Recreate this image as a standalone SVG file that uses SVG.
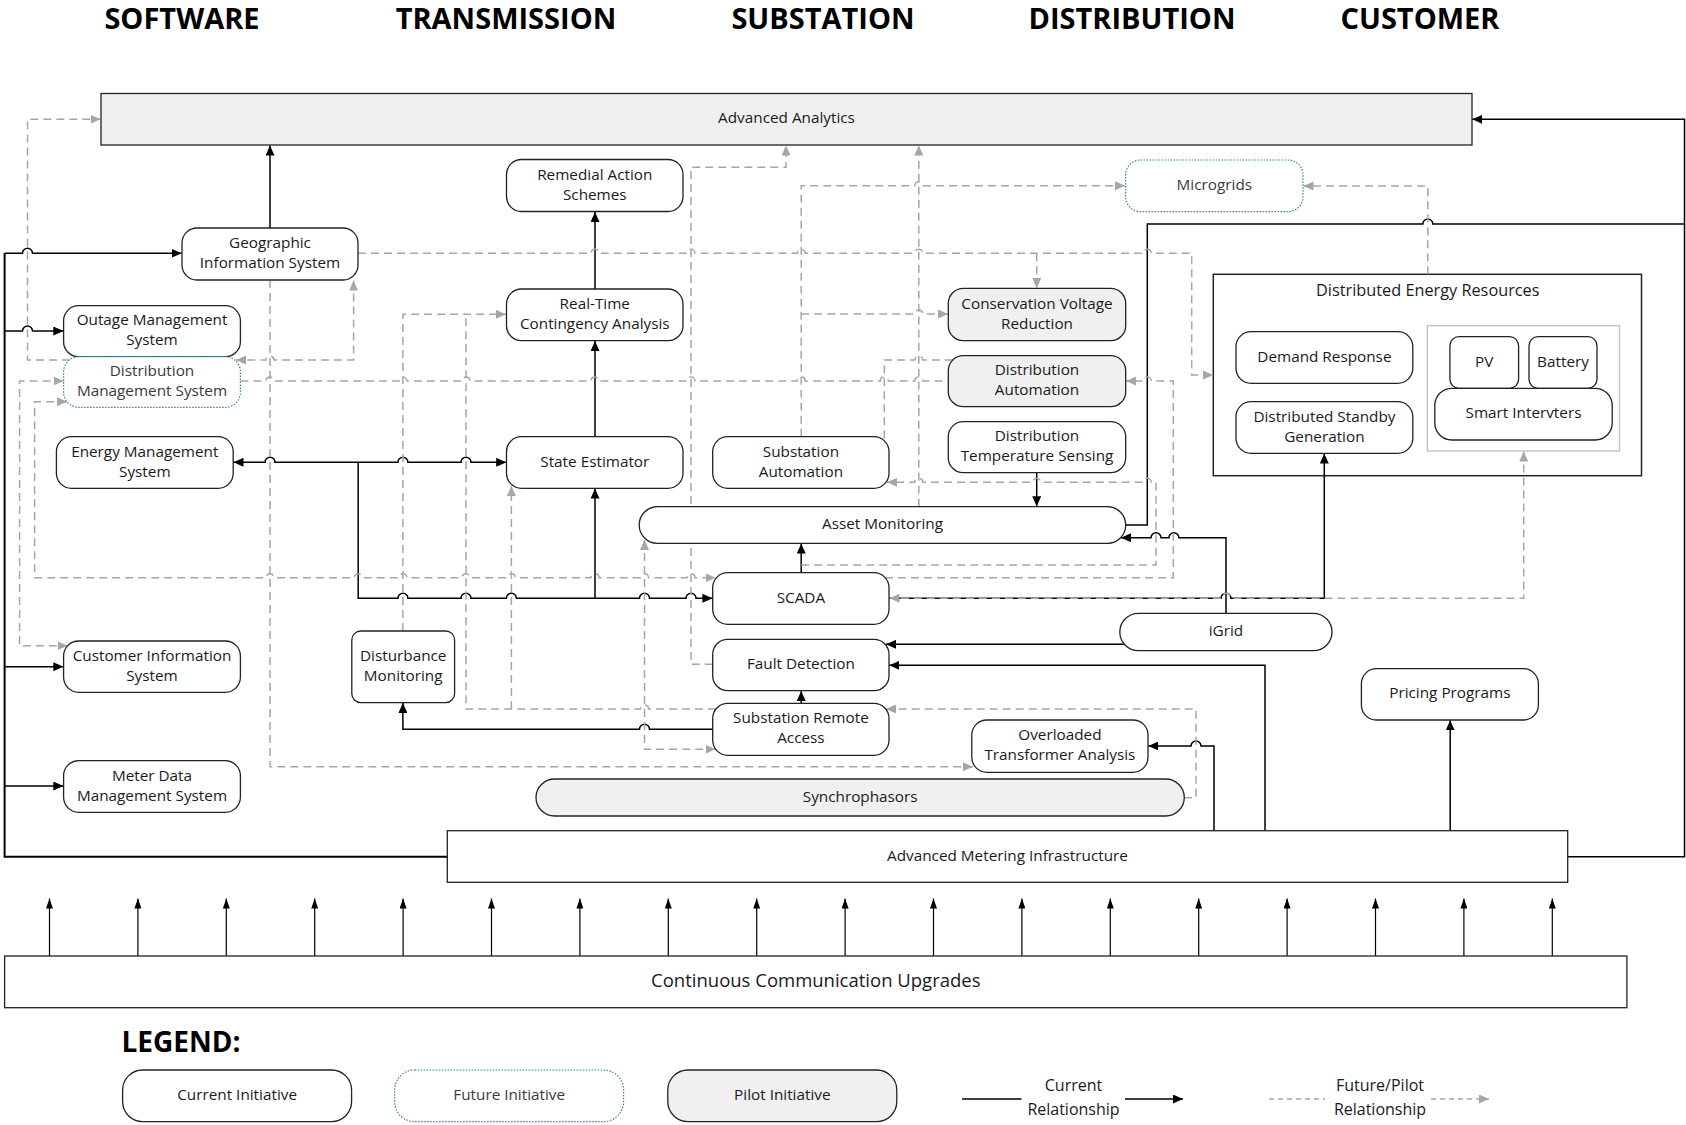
<svg xmlns="http://www.w3.org/2000/svg" width="1686" height="1125" viewBox="0 0 1686 1125">
<style>
text{font-family:"Open Sans","Noto Sans","Liberation Sans",sans-serif;font-size:15.3px;fill:#1a1a1a;text-anchor:middle;dominant-baseline:middle}
.h{font-weight:700;font-size:29px;fill:#000;dominant-baseline:auto}
.lg{font-weight:700;font-size:28px;fill:#000;dominant-baseline:auto;text-anchor:start}
.b{fill:#fff;stroke:#222;stroke-width:1.3}
.p{fill:#f0f0f0;stroke:#222;stroke-width:1.3}
.f{fill:#fff;stroke:#31849b;stroke-width:1.2;stroke-dasharray:1.5 1.5}
.ft{fill:#3a3a3a}
.s{fill:none;stroke:#000;stroke-width:1.5}
.bus{fill:none;stroke:#000;stroke-width:2}
.d{fill:none;stroke:#a6a6a6;stroke-width:1.5;stroke-dasharray:8 5}
.ae{marker-end:url(#ab)}
.ge{marker-end:url(#ag)}
.gs{marker-start:url(#ag)}
.c{fill:none;stroke:#000;stroke-width:1.2;marker-end:url(#ac)}
</style>
<defs>
<marker id="ab" viewBox="0 0 10 9" refX="10" refY="4.5" markerWidth="10" markerHeight="9" markerUnits="userSpaceOnUse" orient="auto-start-reverse"><path d="M0,0 L10,4.5 L0,9 z" fill="#000"/></marker>
<marker id="ag" viewBox="0 0 10 9" refX="10" refY="4.5" markerWidth="10" markerHeight="9" markerUnits="userSpaceOnUse" orient="auto-start-reverse"><path d="M0,0 L10,4.5 L0,9 z" fill="#a6a6a6"/></marker>
<marker id="ac" viewBox="0 0 10 7" refX="10" refY="3.5" markerWidth="10" markerHeight="7" markerUnits="userSpaceOnUse" orient="auto"><path d="M0,0 L10,3.5 L0,7 z" fill="#000"/></marker>
</defs>

<g id="headers">
<text class="h" x="182" y="29">SOFTWARE</text>
<text class="h" x="506" y="29">TRANSMISSION</text>
<text class="h" x="823" y="29">SUBSTATION</text>
<text class="h" x="1132" y="29">DISTRIBUTION</text>
<text class="h" x="1420" y="29">CUSTOMER</text>
</g>

<g id="der"><rect fill="#fff" stroke="#222" stroke-width="1.5" x="1213.3" y="274.3" width="428.2" height="201.4"/><text x="1427.8" y="291.5" style="font-size:16.3px">Distributed Energy Resources</text>
<rect fill="none" stroke="#bfbfbf" stroke-width="1.3" x="1427.4" y="325.7" width="192.1" height="125.3"/></g>

<g id="connectors">
<g id="solid">
<path class="bus" d="M447.3,856.7 H4.6 V253.3"/>
<path class="s ae" d="M4.6,253.3 H22.5 a5,5 0 0 1 10,0 H181.5"/>
<path class="s ae" d="M4.6,331 H22.5 a5,5 0 0 1 10,0 H63.3"/>
<path class="s ae" d="M4.6,666.7 H63.3"/>
<path class="s ae" d="M4.6,786 H63.3"/>
<path class="s ae" d="M270,228 V145.5"/>
<path class="s ae" d="M595,289 V212"/>
<path class="s ae" d="M595,436.7 V341"/>
<path class="s ae" d="M358.2,462.3 H275 a5,5 0 0 0 -10,0 H233.5"/>
<path class="s ae" d="M358.2,462.3 H397.9 a5,5 0 0 1 10,0 H461 a5,5 0 0 1 10,0 H506.2"/>
<path class="s ae" d="M358.2,462.3 V598.3 H397.9 a5,5 0 0 1 10,0 H461 a5,5 0 0 1 10,0 H506.4 a5,5 0 0 1 10,0 H639.5 a5,5 0 0 1 10,0 H686 a5,5 0 0 1 10,0 H712.4"/>
<path class="s ae" d="M595,598.3 V488.6"/>
<path class="s ae" d="M801.2,572.7 V543.6"/>
<path class="s ae" d="M801.2,703.3 V691"/>
<path class="s ae" d="M712.7,729.3 H649.5 a5,5 0 0 0 -10,0 H402.9 V703"/>
<path class="s ae" d="M1036.7,472.7 V506.3"/>
<path class="s ae" d="M1125.7,525 H1147.3 V224 H1422.8 a5,5 0 0 1 10,0 H1684.5 V119.3 H1472.3"/>
<path class="s ae" d="M1226,613.3 V537.7 H1178.9 a5,5 0 0 0 -10,0 H1161 a5,5 0 0 0 -10,0 H1121"/>
<path class="s ae" d="M1124.4,644.3 H886"/>
<path class="s ae" d="M1265,830.7 V665.3 H889.3"/>
<path class="s ae" d="M1214,830.7 V746 H1201 a5,5 0 0 0 -10,0 H1148.3"/>
<path class="s ae" d="M1450.2,830.7 V720.3"/>
<path class="s" d="M1567.7,856.7 H1684.5 V224"/>
<path class="s ae" d="M889,598.3 H1221 a5,5 0 0 1 10,0 H1324.3 V453.6"/>
<path class="c" d="M49.5,956 V898.5"/>
<path class="c" d="M137.9,956 V898.5"/>
<path class="c" d="M226.3,956 V898.5"/>
<path class="c" d="M314.7,956 V898.5"/>
<path class="c" d="M403.1,956 V898.5"/>
<path class="c" d="M491.5,956 V898.5"/>
<path class="c" d="M579.9,956 V898.5"/>
<path class="c" d="M668.3,956 V898.5"/>
<path class="c" d="M756.7,956 V898.5"/>
<path class="c" d="M845.1,956 V898.5"/>
<path class="c" d="M933.5,956 V898.5"/>
<path class="c" d="M1021.9,956 V898.5"/>
<path class="c" d="M1110.3,956 V898.5"/>
<path class="c" d="M1198.7,956 V898.5"/>
<path class="c" d="M1287.1,956 V898.5"/>
<path class="c" d="M1375.5,956 V898.5"/>
<path class="c" d="M1463.9,956 V898.5"/>
<path class="c" d="M1552.3,956 V898.5"/>
</g>
<g id="dashed">
<path class="d gs ge" d="M353.6,280.5 V360 H274 a4,4 0 0 0 -8,0 H236"/>
<path class="d ge" d="M70,360 H27.5 V119.3 H100.5"/>
<path class="d" d="M240.4,381 H266 a4,4 0 0 1 8,0 H398.9 a4,4 0 0 1 8,0 H462 a4,4 0 0 1 8,0 H591 a4,4 0 0 1 8,0 H687 a4,4 0 0 1 8,0 H797.2 a4,4 0 0 1 8,0 H880.3 a4,4 0 0 1 8,0 H914.8 a4,4 0 0 1 8,0 H948.3"/>
<path class="d gs ge" d="M63.6,381 H19.6 V645.7 H67.5"/>
<path class="d gs ge" d="M67,401.7 H34.6 V577.7 H266 a4,4 0 0 1 8,0 H354.2 a4,4 0 0 1 8,0 H398.9 a4,4 0 0 1 8,0 H462 a4,4 0 0 1 8,0 H507.4 a4,4 0 0 1 8,0 H591 a4,4 0 0 1 8,0 H640.5 a4,4 0 0 1 8,0 H687 a4,4 0 0 1 8,0 H715.5"/>
<path class="d ge" d="M885,577.7 H1173.3 V381 H1151.3 a4,4 0 0 0 -8,0 H1126"/>
<path class="d ge" d="M801.2,565 H1156 V482.3 H1151.3 a4,4 0 0 0 -8,0 H1040.7 a4,4 0 0 0 -8,0 H922.8 a4,4 0 0 0 -8,0 H887"/>
<path class="d ge" d="M801.2,436.7 V185.7 H914.8 a4,4 0 0 1 8,0 H1125"/>
<path class="d ge" d="M801.2,314 H914.8 a4,4 0 0 1 8,0 H948"/>
<path class="d ge" d="M712.7,664.3 H691 V167.3 H786 V145.5"/>
<path class="d ge" d="M918.8,506.7 V145.5"/>
<path class="d ge" d="M358,253.3 H591 a4,4 0 0 1 8,0 H687 a4,4 0 0 1 8,0 H797.2 a4,4 0 0 1 8,0 H914.8 a4,4 0 0 1 8,0 H1143.3 a4,4 0 0 1 8,0 H1191.7 V375 H1213"/>
<path class="d ge" d="M1036.7,253.3 V288"/>
<path class="d ge" d="M270,280 V766.7 H973"/>
<path class="d ge" d="M402.9,631 V314.3 H506"/>
<path class="d" d="M716,709 H648.5 a4,4 0 0 0 -8,0 H466 V314.3"/>
<path class="d ge" d="M511.4,709 V486"/>
<path class="d ge" d="M1184,797.7 H1196 V709 H886"/>
<path class="d gs ge" d="M644.5,540 V749.3 H715.5"/>
<path class="d" d="M952.8,360 H922.8 a4,4 0 0 0 -8,0 H884.3 V440.8"/>
<path class="d ge" d="M1427.8,274.3 V186 H1303.5"/>
<path class="d gs ge" d="M1523.7,451.5 V598.3 H1231 a5,5 0 0 0 -10,0 H889.5"/>
</g>
</g>

<g id="nodes">
<g id="advanced-analytics"><rect class="p" x="101" y="93.5" width="1371" height="51.5"/><text x="786.5" y="119.3">Advanced Analytics</text></g>
<g id="gis"><rect class="b" x="182" y="228" width="176" height="52" rx="15"/><text x="270" y="244">Geographic</text><text x="270" y="264">Information System</text></g>
<g id="oms"><rect class="b" x="63.6" y="305.7" width="176.8" height="51" rx="15"/><text x="152" y="321.2">Outage Management</text><text x="152" y="341.2">System</text></g>
<g id="dms"><rect class="f" x="63.6" y="356.7" width="176.8" height="50.6" rx="15"/><text class="ft" x="152" y="372">Distribution</text><text class="ft" x="152" y="392">Management System</text></g>
<g id="ems"><rect class="b" x="56.4" y="436.7" width="176.8" height="51.6" rx="15"/><text x="144.8" y="452.5">Energy Management</text><text x="144.8" y="472.5">System</text></g>
<g id="cis"><rect class="b" x="63.6" y="641" width="176.8" height="51.3" rx="15"/><text x="152" y="656.7">Customer Information</text><text x="152" y="676.7">System</text></g>
<g id="mdms"><rect class="b" x="63.6" y="760.7" width="176.8" height="51.6" rx="15"/><text x="152" y="776.5">Meter Data</text><text x="152" y="796.5">Management System</text></g>
<g id="disturbance-monitoring"><rect class="b" x="351.8" y="631" width="102.8" height="71.7" rx="9"/><text x="403.2" y="656.9">Disturbance</text><text x="403.2" y="676.9">Monitoring</text></g>
<g id="ras"><rect class="b" x="506.5" y="159.5" width="176.5" height="52" rx="15"/><text x="594.8" y="175.5">Remedial Action</text><text x="594.8" y="195.5">Schemes</text></g>
<g id="rtca"><rect class="b" x="506.5" y="289" width="176.5" height="51.7" rx="15"/><text x="594.8" y="304.8">Real-Time</text><text x="594.8" y="324.8">Contingency Analysis</text></g>
<g id="state-estimator"><rect class="b" x="506.5" y="436.7" width="176.5" height="51.6" rx="15"/><text x="594.8" y="462.5">State Estimator</text></g>
<g id="substation-automation"><rect class="b" x="712.7" y="436.7" width="176.3" height="51.6" rx="15"/><text x="800.9" y="452.5">Substation</text><text x="800.9" y="472.5">Automation</text></g>
<g id="asset-monitoring"><rect class="b" x="639.2" y="506.7" width="486.5" height="36.6" rx="18.3"/><text x="882.5" y="525">Asset Monitoring</text></g>
<g id="cvr"><rect class="p" x="948.3" y="288.3" width="177.4" height="52.4" rx="15"/><text x="1037" y="304.5">Conservation Voltage</text><text x="1037" y="324.5">Reduction</text></g>
<g id="distribution-automation"><rect class="p" x="948.3" y="355.7" width="177.4" height="51" rx="15"/><text x="1037" y="371.2">Distribution</text><text x="1037" y="391.2">Automation</text></g>
<g id="dts"><rect class="b" x="948.3" y="421.7" width="177.4" height="51" rx="15"/><text x="1037" y="437.2">Distribution</text><text x="1037" y="457.2">Temperature Sensing</text></g>
<g id="microgrids"><rect class="f" x="1125.6" y="160" width="177.4" height="51.7" rx="15"/><text class="ft" x="1214.3" y="185.8">Microgrids</text></g>
<g id="demand-response"><rect class="b" x="1236" y="331.7" width="176.8" height="51.6" rx="15"/><text x="1324.4" y="357.5">Demand Response</text></g>
<g id="dsg"><rect class="b" x="1236" y="401.7" width="176.8" height="51.6" rx="15"/><text x="1324.4" y="417.5">Distributed Standby</text><text x="1324.4" y="437.5">Generation</text></g>
<g id="pv"><rect class="b" x="1449.9" y="336.7" width="68.7" height="51.6" rx="9"/><text x="1484.2" y="362.5">PV</text></g>
<g id="battery"><rect class="b" x="1529" y="336.7" width="68" height="51.6" rx="9"/><text x="1563" y="362.5">Battery</text></g>
<g id="smart-inverters"><rect class="b" x="1434.8" y="388.3" width="177.4" height="51.7" rx="17"/><text x="1523.5" y="414.2">Smart Intervters</text></g>
<g id="pricing-programs"><rect class="b" x="1361.4" y="668.7" width="177" height="51.3" rx="15"/><text x="1449.9" y="694.3">Pricing Programs</text></g>
<g id="igrid"><rect class="b" x="1119.8" y="613.3" width="212.2" height="37.4" rx="18.7"/><text x="1225.9" y="632">iGrid</text></g>
<g id="scada"><rect class="b" x="712.7" y="572.7" width="176.3" height="51.6" rx="15"/><text x="800.9" y="598.5">SCADA</text></g>
<g id="fault-detection"><rect class="b" x="712.7" y="639.3" width="176.3" height="51.4" rx="15"/><text x="800.9" y="665">Fault Detection</text></g>
<g id="sra"><rect class="b" x="712.7" y="703.3" width="176.3" height="52" rx="15"/><text x="800.9" y="719.3">Substation Remote</text><text x="800.9" y="739.3">Access</text></g>
<g id="ota"><rect class="b" x="971.8" y="720" width="176.2" height="52.3" rx="15"/><text x="1059.9" y="736.2">Overloaded</text><text x="1059.9" y="756.2">Transformer Analysis</text></g>
<g id="synchrophasors"><rect class="p" x="536" y="779" width="648.3" height="37" rx="18.5"/><text x="860.2" y="797.5">Synchrophasors</text></g>
<g id="ami"><rect class="b" x="447.3" y="830.7" width="1120.4" height="51.6"/><text x="1007.5" y="856.5">Advanced Metering Infrastructure</text></g>
<g id="ccu"><rect class="b" x="4.6" y="956" width="1622.3" height="51.7"/><text x="815.8" y="981.8" style="font-size:18.5px">Continuous Communication Upgrades</text></g>
</g>

<g id="legend">
<text class="lg" x="121.5" y="1052">LEGEND:</text>
<g id="legend-current"><rect class="b" x="122.6" y="1070" width="229" height="51.6" rx="20"/><text x="237.1" y="1096">Current Initiative</text></g>
<g id="legend-future"><rect class="f" x="394.6" y="1070" width="229" height="51.6" rx="20"/><text class="ft" x="509.2" y="1096">Future Initiative</text></g>
<g id="legend-pilot"><rect class="p" x="667.8" y="1070" width="229" height="51.6" rx="20"/><text x="782.3" y="1096">Pilot Initiative</text></g>
<g id="legend-current-rel"><path class="s" d="M962,1099 H1021.5"/><path class="s ae" d="M1125,1099 H1183"/><text x="1073.5" y="1087" style="font-size:16px">Current</text><text x="1073.5" y="1111" style="font-size:16px">Relationship</text></g>
<g id="legend-future-rel"><path class="d" style="stroke-dasharray:5 4" d="M1269,1099 H1325"/><path class="d ge" style="stroke-dasharray:5 4" d="M1431,1099 H1489"/><text x="1380" y="1087" style="font-size:16px">Future/Pilot</text><text x="1380" y="1111" style="font-size:16px">Relationship</text></g>
</g>
</svg>
